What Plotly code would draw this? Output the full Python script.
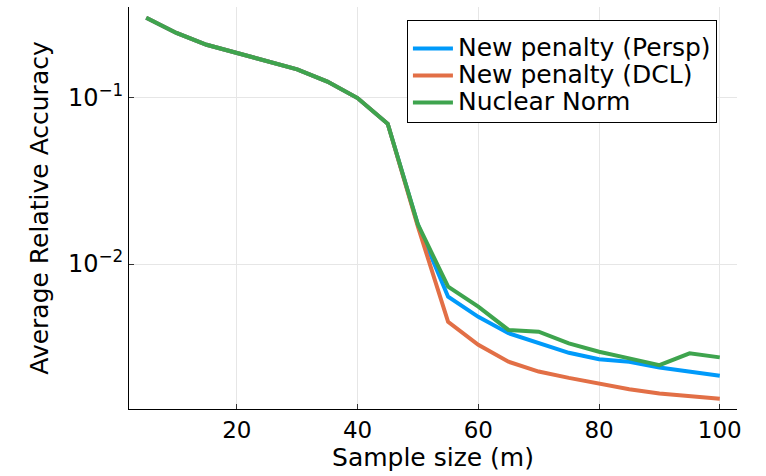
import plotly.graph_objects as go

m = [5, 10, 15, 20, 25, 30, 35, 40, 45, 50, 55, 60, 65, 70, 75, 80, 85, 90, 95, 100]
common = [0.302, 0.245, 0.208, 0.186, 0.167, 0.148, 0.125, 0.0995, 0.0697]
persp = common + [0.0172, 0.00637, 0.00482, 0.00384, 0.00334, 0.00293, 0.00268, 0.00259, 0.00239, 0.00226, 0.00213]
dcl = common + [0.0168, 0.00450, 0.00327, 0.00259, 0.00226, 0.00207, 0.00192, 0.00177, 0.00167, 0.00160, 0.00155]
nuclear = common + [0.0173, 0.00731, 0.00555, 0.00402, 0.00392, 0.00334, 0.00297, 0.00271, 0.00247, 0.00291, 0.00275]

names = ["New penalty (Persp)", "New penalty (DCL)", "Nuclear Norm"]
colors = ["#009AFA", "#E26F46", "#3EA44E"]
xticks = [20, 40, 60, 80, 100]
yticks = [0.1, 0.01]
yticklabels = ["10<sup>−1</sup>", "10<sup>−2</sup>"]

FONT = "DejaVu Sans"
fig = go.Figure()
for name, ys, c in zip(names, [persp, dcl, nuclear], colors):
    fig.add_trace(go.Scatter(x=m, y=ys, mode="lines",
                             name='<span style="font-size:25px">' + name + '</span>',
                             legendgroup=name, line=dict(color=c, width=4)))

fig.update_layout(
    width=766, height=476,
    margin=dict(l=129, r=29, t=7, b=67),
    paper_bgcolor="white", plot_bgcolor="white",
    font=dict(family=FONT, size=23.5, color="black"),
    legend=dict(x=0.967, y=0.968, xanchor="right", yanchor="top",
                bgcolor="white", bordercolor="black", borderwidth=1,
                font=dict(size=18.5, family=FONT), itemwidth=40,
                title=dict(text=" ", font=dict(size=7)),
                traceorder="grouped", tracegroupgap=0),
    xaxis=dict(range=[2.15, 102.85], tickvals=xticks, ticks="inside", ticklen=5,
               tickcolor="#333", showline=True, linecolor="black", linewidth=1,
               showgrid=True, gridcolor="#e6e6e6", gridwidth=1, zeroline=False,
               tickfont=dict(size=23),
               title=dict(text="Sample size (m)", font=dict(size=25), standoff=6)),
    yaxis=dict(type="log", range=[-2.871, -0.455], tickvals=yticks, ticktext=yticklabels,
               ticks="inside", ticklen=5, tickcolor="#333", showline=True,
               linecolor="black", linewidth=1, showgrid=True, gridcolor="#e6e6e6",
               gridwidth=1, zeroline=False, tickfont=dict(size=24),
               title=dict(text="Average Relative Accuracy", font=dict(size=25), standoff=12)),
)
fig.write_html("out.html")
